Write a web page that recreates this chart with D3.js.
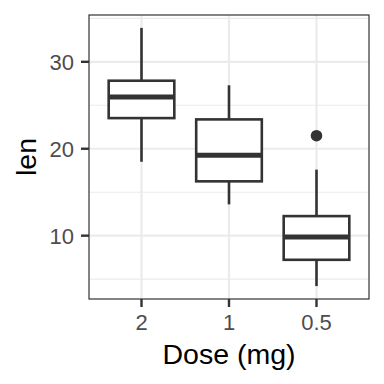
<!DOCTYPE html>
<html><head><meta charset="utf-8">
<script src="https://cdn.jsdelivr.net/npm/d3@7"></script>
<style>body{margin:0;background:#fff}svg{display:block;font-family:"Liberation Sans",Arial,sans-serif}</style>
</head><body><svg id="c" width="384" height="384"></svg>
<script>
const doseLabels = ["2", "1", "0.5"];
const len2 = [23.6,18.5,33.9,25.5,26.4,32.5,26.7,21.5,23.3,29.5,25.5,26.4,22.4,24.5,24.8,30.9,26.4,27.3,29.4,23.0];
const len1 = [16.5,16.5,15.2,17.3,22.5,17.3,13.6,14.5,18.8,15.5,19.7,23.3,23.6,26.4,20.0,25.2,25.8,21.2,14.5,27.3];
const len05 = [4.2,11.5,7.3,5.8,6.4,10.0,11.2,11.2,5.2,7.0,15.2,21.5,17.6,9.7,14.5,10.0,8.2,9.4,16.5,9.7];
const yTicks = [10, 20, 30];
const yMinor = [5, 15, 25, 35];

const groups = [len2, len1, len05];
const svg = d3.select("#c");
const L = 89, R = 369, T = 15, B = 299;

function stats(arr) {
  const s = arr.slice().sort(d3.ascending);
  const q1 = d3.quantile(s, 0.25), med = d3.quantile(s, 0.5), q3 = d3.quantile(s, 0.75);
  const iqr = q3 - q1;
  const lo = d3.min(s.filter(v => v >= q1 - 1.5 * iqr));
  const hi = d3.max(s.filter(v => v <= q3 + 1.5 * iqr));
  const out = s.filter(v => v < lo || v > hi);
  return {q1, med, q3, lo, hi, out};
}
const st = groups.map(stats);
const all = groups.flat();
const ext = d3.extent(all);
const pad = (ext[1] - ext[0]) * 0.05;
const y = d3.scaleLinear().domain([ext[0] - pad, ext[1] + pad]).range([B, T]);
const x = d3.scalePoint().domain(doseLabels).range([L, R]).padding(0.6);
const step = x.step();
const cx = d => x(d);
const bw = 0.75 * step;

// grid
svg.append("rect").attr("x", L).attr("y", T).attr("width", R - L).attr("height", B - T).attr("fill", "#fff");
yMinor.forEach(v => {
  if (y(v) >= T && y(v) <= B)
    svg.append("line").attr("x1", L).attr("x2", R).attr("y1", y(v)).attr("y2", y(v)).attr("stroke", "#EBEBEB").attr("stroke-width", 1.1);
});
yTicks.forEach(v => {
  svg.append("line").attr("x1", L).attr("x2", R).attr("y1", y(v)).attr("y2", y(v)).attr("stroke", "#EBEBEB").attr("stroke-width", 2.2);
});
doseLabels.forEach(d => {
  svg.append("line").attr("x1", cx(d)).attr("x2", cx(d)).attr("y1", T).attr("y2", B).attr("stroke", "#EBEBEB").attr("stroke-width", 2.2);
});

// boxes
const col = "#333333";
const lw = 2.6;
doseLabels.forEach((d, i) => {
  const s = st[i], c = cx(d);
  const g = svg.append("g");
  g.append("line").attr("x1", c).attr("x2", c).attr("y1", y(s.q3)).attr("y2", y(s.hi)).attr("stroke", col).attr("stroke-width", lw);
  g.append("line").attr("x1", c).attr("x2", c).attr("y1", y(s.q1)).attr("y2", y(s.lo)).attr("stroke", col).attr("stroke-width", lw);
  g.append("rect").attr("x", c - bw / 2).attr("width", bw).attr("y", y(s.q3)).attr("height", y(s.q1) - y(s.q3))
    .attr("fill", "#fff").attr("stroke", col).attr("stroke-width", lw);
  g.append("line").attr("x1", c - bw / 2).attr("x2", c + bw / 2).attr("y1", y(s.med)).attr("y2", y(s.med)).attr("stroke", col).attr("stroke-width", 2 * lw);
  s.out.forEach(v => g.append("circle").attr("cx", c).attr("cy", y(v)).attr("r", 5.8).attr("fill", col));
});

// border
svg.append("rect").attr("x", L).attr("y", T).attr("width", R - L).attr("height", B - T).attr("fill", "none").attr("stroke", "#333333").attr("stroke-width", 1.2);

// axes ticks & labels
yTicks.forEach(v => {
  svg.append("line").attr("x1", L - 8).attr("x2", L).attr("y1", y(v)).attr("y2", y(v)).attr("stroke", "#333").attr("stroke-width", 2.4);
  svg.append("text").attr("x", 74).attr("y", y(v)).attr("dy", "0.36em").attr("text-anchor", "end")
    .attr("font-size", 22).attr("fill", "#4D4D4D").text(v);
});
doseLabels.forEach(d => {
  svg.append("line").attr("x1", cx(d)).attr("x2", cx(d)).attr("y1", B).attr("y2", B + 8).attr("stroke", "#333").attr("stroke-width", 2.4);
  svg.append("text").attr("x", cx(d)).attr("y", 329.5).attr("text-anchor", "middle")
    .attr("font-size", 22).attr("fill", "#4D4D4D").text(d);
});
svg.append("text").attr("x", (L + R) / 2).attr("y", 364).attr("text-anchor", "middle").attr("font-size", 28.5).attr("fill", "#000").text("Dose (mg)");
svg.append("text").attr("transform", `translate(36,${(T + B) / 2}) rotate(-90)`).attr("text-anchor", "middle").attr("font-size", 28.5).attr("fill", "#000").text("len");
</script></body></html>
